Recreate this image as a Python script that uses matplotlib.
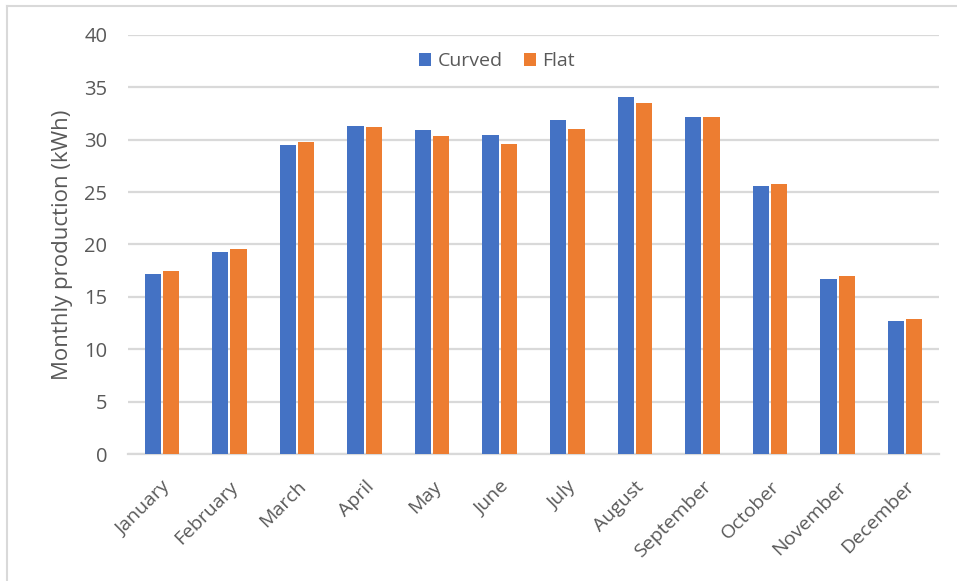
import numpy as np
import matplotlib
matplotlib.use("Agg")
from matplotlib import pyplot as plt
from matplotlib.lines import Line2D

months = ["January", "February", "March", "April", "May", "June", "July",
          "August", "September", "October", "November", "December"]
curved = [17.2, 19.3, 29.5, 31.35, 30.95, 30.5, 31.85, 34.05, 32.2, 25.55, 16.7, 12.7]
flat = [17.5, 19.55, 29.75, 31.2, 30.35, 29.6, 31.0, 33.55, 32.2, 25.8, 16.95, 12.9]
yticks = [0, 5, 10, 15, 20, 25, 30, 35, 40]

blue = "#4472C4"
orange = "#ED7D31"
grey_text = "#595959"
grid_col = "#D9D9D9"

plt.rcParams['font.family'] = ['Open Sans', 'DejaVu Sans']

fig = plt.figure(figsize=(9.57, 5.81), dpi=100)
ax = fig.add_axes([128 / 957, 1 - 454 / 581, (939 - 128) / 957, (454 - 35) / 581])

x = np.arange(len(months))
w = 0.24
gap = 0.03
ax.bar(x - (w + gap) / 2, curved, w, color=blue, label="Curved", zorder=3)
ax.bar(x + (w + gap) / 2, flat, w, color=orange, label="Flat", zorder=3)

ax.set_xlim(-0.5, len(months) - 0.5)
ax.set_ylim(0, 40)
ax.set_yticks(yticks)
ax.set_yticklabels([str(t) for t in yticks], fontsize=14.5, color=grey_text)
ax.set_xticks(x)
ax.set_xticklabels(months, rotation=45, ha="right", rotation_mode="anchor",
                   fontsize=14, color=grey_text)
ax.tick_params(axis="both", length=0)
ax.tick_params(axis="y", pad=15)
ax.tick_params(axis="x", pad=17)

ax.yaxis.grid(True, color=grid_col, linewidth=1.6, zorder=0)
for s in ["top", "right", "left"]:
    ax.spines[s].set_visible(False)
ax.spines["bottom"].set_color(grid_col)
ax.spines["bottom"].set_linewidth(1.6)

ax.set_ylabel("Monthly production (kWh)", fontsize=16, color=grey_text, labelpad=8)

ax.legend(loc="upper center", bbox_to_anchor=(0.455, 1.0), ncol=2, frameon=False,
          fontsize=14, labelcolor=grey_text, handlelength=0.6, handleheight=0.6,
          handletextpad=0.35, columnspacing=1.1)

# chart frame: top and left edges only
fig.add_artist(Line2D([7 / 957, 1], [1 - 6 / 581, 1 - 6 / 581],
                      transform=fig.transFigure, color=grid_col, linewidth=1.5))
fig.add_artist(Line2D([7 / 957, 7 / 957], [0, 1 - 6 / 581],
                      transform=fig.transFigure, color=grid_col, linewidth=1.5))

fig.savefig("out.png", dpi=100)
